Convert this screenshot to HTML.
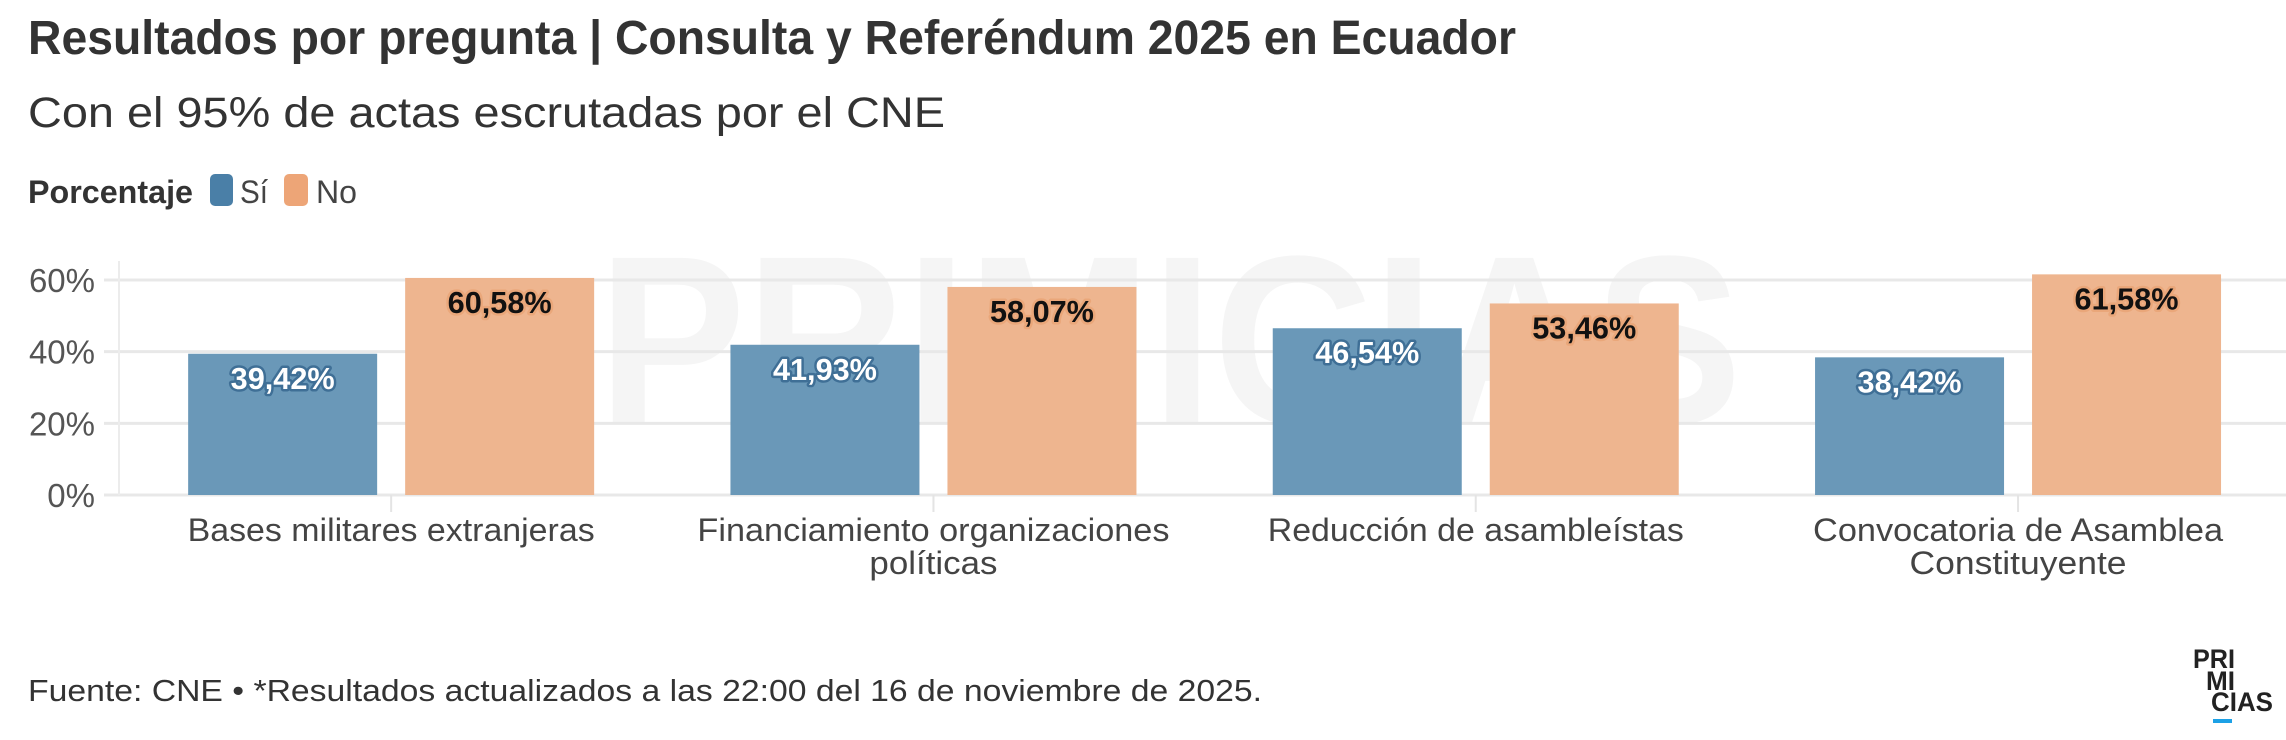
<!DOCTYPE html>
<html><head><meta charset="utf-8"><style>
html,body{margin:0;padding:0;background:#fff;}
svg{display:block;font-family:"Liberation Sans",sans-serif;}
</style></head><body>
<svg id="chart" width="2286" height="740" viewBox="0 0 2286 740">
<text x="28" y="54" font-size="48" font-weight="bold" fill="#333" textLength="1488" lengthAdjust="spacingAndGlyphs">Resultados por pregunta | Consulta y Referéndum 2025 en Ecuador</text>
<text x="28" y="127" font-size="43" fill="#333" textLength="917" lengthAdjust="spacingAndGlyphs">Con el 95% de actas escrutadas por el CNE</text>
<g>
<text x="28" y="203" font-size="32" font-weight="bold" fill="#333" textLength="165" lengthAdjust="spacingAndGlyphs">Porcentaje</text>
<rect x="210" y="174" width="23" height="32" rx="5" fill="#4a7fa7"/>
<text x="240" y="203" font-size="32" fill="#444" textLength="28" lengthAdjust="spacingAndGlyphs">Sí</text>
<rect x="284" y="174" width="24" height="32" rx="5" fill="#eda577"/>
<text x="316" y="203" font-size="32" fill="#444" textLength="41" lengthAdjust="spacingAndGlyphs">No</text>
</g>
<text x="598" y="423" font-size="240" font-weight="bold" fill="#f5f5f5" textLength="1144" lengthAdjust="spacingAndGlyphs">PRIMICIAS</text>
<g id="grid"></g>
<g id="yaxis"></g>
<g id="bars"></g>
<g id="xaxis"></g>
<text x="28" y="701" font-size="31" fill="#333" textLength="1234" lengthAdjust="spacingAndGlyphs">Fuente: CNE • *Resultados actualizados a las 22:00 del 16 de noviembre de 2025.</text>
<g font-weight="bold" font-size="27" fill="#222">
<text x="2193" y="668" textLength="42" lengthAdjust="spacingAndGlyphs">PRI</text>
<text x="2206" y="690" textLength="29" lengthAdjust="spacingAndGlyphs">MI</text>
<text x="2211" y="711" textLength="62" lengthAdjust="spacingAndGlyphs">CIAS</text>
<rect x="2213" y="719" width="19" height="4" fill="#1da1e6"/>
</g>
</svg>
<script>
const categories = [["Bases militares extranjeras"],["Financiamiento organizaciones","políticas"],["Reducción de asambleístas"],["Convocatoria de Asamblea","Constituyente"]];
const catWidths = [[407],[472,128],[416],[410,217]];
const siValues = [39.42, 41.93, 46.54, 38.42];
const noValues = [60.58, 58.07, 53.46, 61.58];
const yTicks = [0, 20, 40, 60];

const NS = "http://www.w3.org/2000/svg";
const x0 = 120, band = 542.3, yZero = 495, pxPer = 3.583;
function yScale(v){ return yZero - v * pxPer; }
function xCenter(i){ return x0 + band * (i + 0.5); }
function mk(tag, attrs, parent){ const e = document.createElementNS(NS, tag); for (const k in attrs) e.setAttribute(k, attrs[k]); parent.appendChild(e); return e; }
function fmt(v){ return v.toFixed(2).replace('.', ',') + '%'; }

const grid = document.getElementById('grid');
const yaxis = document.getElementById('yaxis');
yTicks.forEach(t => {
  const l = mk('line', {x1:104, x2:2286, y1:yScale(t), y2:yScale(t), stroke:'#e8e8e8', 'stroke-width':3}, grid);
  
  
  const tx = mk('text', {x:95, y:yScale(t)+12, 'text-anchor':'end', 'font-size':33, fill:'#555'}, yaxis);
  tx.textContent = t + '%';
  
  
});
const vl = mk('line', {x1:119, x2:119, y1:261, y2:495, stroke:'#ececec', 'stroke-width':2}, grid);



const bars = document.getElementById('bars');
const xaxis = document.getElementById('xaxis');
const bw = 189;
categories.forEach((c, i) => {
  const cx = xCenter(i);
  [[siValues[i], cx - 203, '#6a98b8', '#fff', '#3f6f96', 'si'], [noValues[i], cx + 14, '#eeb58f', '#111', '#eaa77a', 'no']].forEach(d => {
    const [v, x, fill, tc, sc, key] = d;
    const r = mk('rect', {x:x, y:yScale(v), width:bw, height:yZero - yScale(v), fill:fill}, bars);
    
    
    const t = mk('text', {x:x + bw/2, y:yScale(v)+35, 'text-anchor':'middle', 'font-size':31, 'font-weight':'bold', fill:tc, stroke:sc, 'stroke-width':5, 'paint-order':'stroke', 'stroke-linejoin':'round', textLength:104, lengthAdjust:'spacingAndGlyphs'}, bars);
    t.textContent = fmt(v);
    
    
  });
  const tk = mk('line', {x1:cx, x2:cx, y1:495, y2:512, stroke:'#e4e4e4', 'stroke-width':2}, xaxis);
  
  
  c.forEach((line, j) => {
    const t = mk('text', {x:cx, y:541 + j*33, 'text-anchor':'middle', 'font-size':32, fill:'#444', textLength:catWidths[i][j], lengthAdjust:'spacingAndGlyphs'}, xaxis);
    t.textContent = line;
    
    
  });
});
</script>
</body></html>
